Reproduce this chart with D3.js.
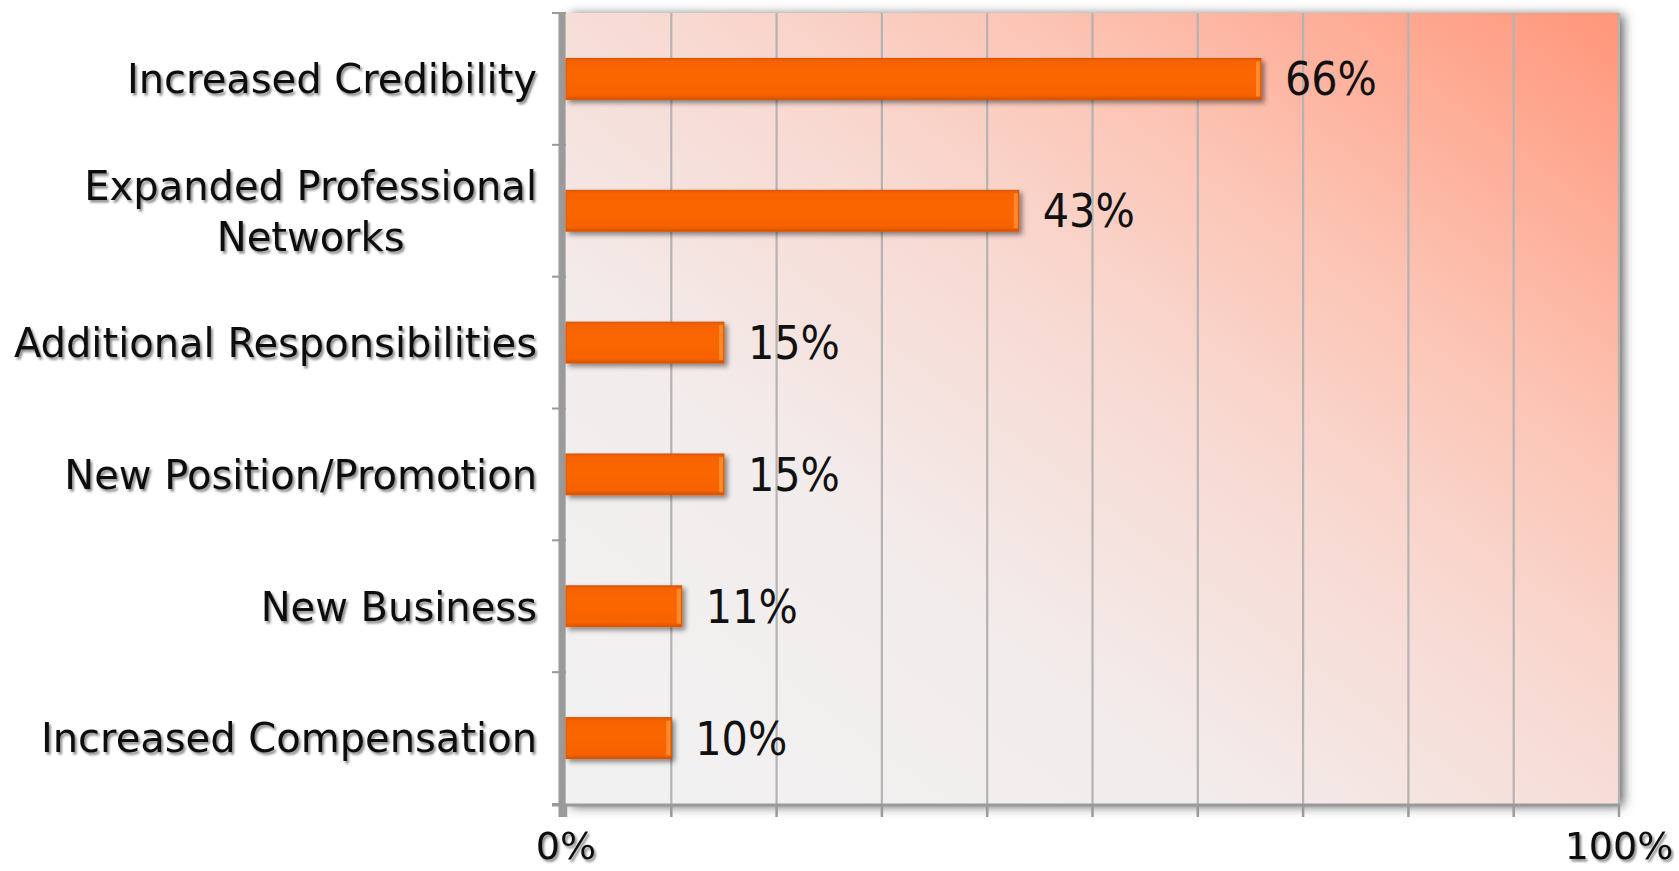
<!DOCTYPE html>
<html>
<head>
<meta charset="utf-8">
<script src="https://cdnjs.cloudflare.com/ajax/libs/d3/7.8.5/d3.min.js"></script>
<style>
	html, body { margin: 0; padding: 0; background: #ffffff; }
	svg { display: block; }
</style>
</head>
<body>
<div id="barChart"></div>
<script>
var categories = [
	["Increased Credibility"],
	["Expanded Professional", "Networks"],
	["Additional Responsibilities"],
	["New Position/Promotion"],
	["New Business"],
	["Increased Compensation"]
];
var values = [66, 43, 15, 15, 11, 10];
var tickValues = [0, 10, 20, 30, 40, 50, 60, 70, 80, 90, 100];
var tickLabels = ["0%", "100%"];

(function() {
	var width = 1679,
	height = 871,
	marginTop = 13,
	marginLeft = 566,
	marginRight = 60,
	marginBottom = 67,
	labelFont = "'DejaVu Sans', sans-serif";

	var svg = d3.select('#barChart').append('svg')
		.attr('width', width).attr('height', height);

	var defs = svg.append('defs');

	var bg = defs.append('linearGradient').attr('id', 'bg')
		.attr('x1', 0).attr('y1', 1).attr('x2', 1).attr('y2', 0);
	[[0, '#f1f1f1'], [0.3, '#f2eded'], [0.55, '#f8d9d1'], [0.72, '#fcc4b4'], [1, '#ff967a']]
		.forEach(function(s) { bg.append('stop').attr('offset', s[0]).attr('stop-color', s[1]); });

	var barFill = defs.append('linearGradient').attr('id', 'barFill')
		.attr('x1', 0).attr('y1', 0).attr('x2', 0).attr('y2', 1);
	[[0, '#e05a00'], [0.08, '#f76400'], [0.5, '#fb6600'], [0.9, '#f56200'], [1, '#d45200']]
		.forEach(function(s) { barFill.append('stop').attr('offset', s[0]).attr('stop-color', s[1]); });

	var frameShadow = defs.append('filter').attr('id', 'frameShadow')
		.attr('x', '-5%').attr('y', '-5%').attr('width', '110%').attr('height', '110%');
	frameShadow.append('feDropShadow').attr('dx', 4).attr('dy', 2)
		.attr('stdDeviation', 6).attr('flood-color', '#555').attr('flood-opacity', 1);

	var barShadow = defs.append('filter').attr('id', 'barShadow')
		.attr('x', '-10%').attr('y', '-30%').attr('width', '130%').attr('height', '160%');
	barShadow.append('feDropShadow').attr('dx', 3).attr('dy', 3)
		.attr('stdDeviation', 2.5).attr('flood-color', '#000').attr('flood-opacity', 0.45);

	var textShadow = defs.append('filter').attr('id', 'textShadow')
		.attr('x', '-5%').attr('y', '-20%').attr('width', '110%').attr('height', '150%');
	textShadow.append('feDropShadow').attr('dx', 2).attr('dy', 2.5)
		.attr('stdDeviation', 1.2).attr('flood-color', '#000').attr('flood-opacity', 0.45);

	var x = d3.scaleLinear()
		.domain([0, 100])
		.range([marginLeft, width - marginRight]);

	var y = d3.scaleBand()
		.domain(d3.range(categories.length))
		.range([marginTop, height - marginBottom])
		.paddingInner(0.69)
		.paddingOuter(0.345);

	var plotTop = marginTop,
	plotBottom = height - marginBottom;

	// plot background with the soft frame shadow
	svg.append('rect')
		.attr('x', x(0)).attr('y', plotTop)
		.attr('width', x(100) - x(0)).attr('height', plotBottom - plotTop)
		.style('fill', 'url(#bg)')
		.attr('filter', 'url(#frameShadow)');

	// vertical grid lines
	svg.append('g').selectAll('line')
		.data(tickValues.slice(1))
		.enter().append('line')
		.attr('x1', function(d) { return x(d); })
		.attr('x2', function(d) { return x(d); })
		.attr('y1', plotTop).attr('y2', plotBottom)
		.style('stroke', '#b3b3b3')
		.style('stroke-width', 2.2);

	// x axis line and ticks
	var axisG = svg.append('g');
	axisG.append('line')
		.attr('x1', x(0) - 14).attr('x2', x(100))
		.attr('y1', plotBottom + 1).attr('y2', plotBottom + 1)
		.style('stroke', '#9a9a9a').style('stroke-width', 3);
	axisG.selectAll('.xtick')
		.data(tickValues)
		.enter().append('line')
		.attr('class', 'xtick')
		.attr('x1', function(d) { return x(d); })
		.attr('x2', function(d) { return x(d); })
		.attr('y1', plotBottom).attr('y2', plotBottom + 13)
		.style('stroke', '#9a9a9a').style('stroke-width', 2.5);

	// y axis line and ticks at band boundaries
	axisG.append('line')
		.attr('x1', x(0) - 4).attr('x2', x(0) - 4)
		.attr('y1', plotTop).attr('y2', plotBottom + 13)
		.style('stroke', '#9a9a9a').style('stroke-width', 7);
	axisG.selectAll('.ytick')
		.data(d3.range(categories.length + 1))
		.enter().append('line')
		.attr('class', 'ytick')
		.attr('x1', x(0) - 14).attr('x2', x(0))
		.attr('y1', function(d) { return plotTop + d * y.step(); })
		.attr('y2', function(d) { return plotTop + d * y.step(); })
		.style('stroke', '#9a9a9a').style('stroke-width', 2);

	// bars
	var bar = svg.append('g').selectAll('g')
		.data(values)
		.enter().append('g')
		.attr('filter', 'url(#barShadow)');

	bar.append('rect')
		.attr('x', x(0))
		.attr('y', function(d, i) { return y(i); })
		.attr('width', function(d) { return x(d) - x(0); })
		.attr('height', y.bandwidth())
		.style('fill', 'url(#barFill)')
		.style('stroke', '#d85400')
		.style('stroke-width', 1);

	// bevel on the bar end
	bar.append('rect')
		.attr('x', function(d) { return x(d) - 5; })
		.attr('y', function(d, i) { return y(i) + 3; })
		.attr('width', 4)
		.attr('height', y.bandwidth() - 6)
		.style('fill', '#ff8a2a');

	// value labels
	svg.append('g').selectAll('text')
		.data(values)
		.enter().append('text')
		.attr('x', function(d) { return x(d) + 24; })
		.attr('y', function(d, i) { return y(i) + y.bandwidth() / 2; })
		.attr('dy', '0.36em')
		.style('font-family', "'DejaVu Sans Condensed', 'DejaVu Sans', sans-serif")
		.style('font-size', '46px')
		.style('fill', '#111')
		.text(function(d) { return d + '%'; });

	// category labels, lines centred on each other, block right aligned
	var labelRight = marginLeft - 29,
	lineHeight = 51;
	var label = svg.append('g').attr('filter', 'url(#textShadow)')
		.selectAll('text')
		.data(categories)
		.enter().append('text')
		.style('font-family', labelFont)
		.style('font-size', '40px')
		.style('fill', '#111')
		.attr('text-anchor', 'middle');

	label.each(function(lines, i) {
		var t = d3.select(this);
		var cy = y(i) + y.bandwidth() / 2 - (lines.length - 1) * lineHeight / 2;
		lines.forEach(function(line, j) {
			t.append('tspan').attr('y', cy + j * lineHeight).attr('dy', '0.36em').text(line);
		});
		var maxW = 0;
		t.selectAll('tspan').each(function() { maxW = Math.max(maxW, this.getComputedTextLength()); });
		t.selectAll('tspan').attr('x', labelRight - maxW / 2);
	});

	// x tick labels, only the ends are labelled
	svg.append('g').attr('filter', 'url(#textShadow)')
		.selectAll('text')
		.data([0, 100])
		.enter().append('text')
		.attr('x', function(d) { return x(d); })
		.attr('y', height - 12)
		.attr('text-anchor', 'middle')
		.style('font-family', labelFont)
		.style('font-size', '38px')
		.style('fill', '#111')
		.text(function(d, i) { return tickLabels[i]; });
})();
</script>
</body>
</html>
